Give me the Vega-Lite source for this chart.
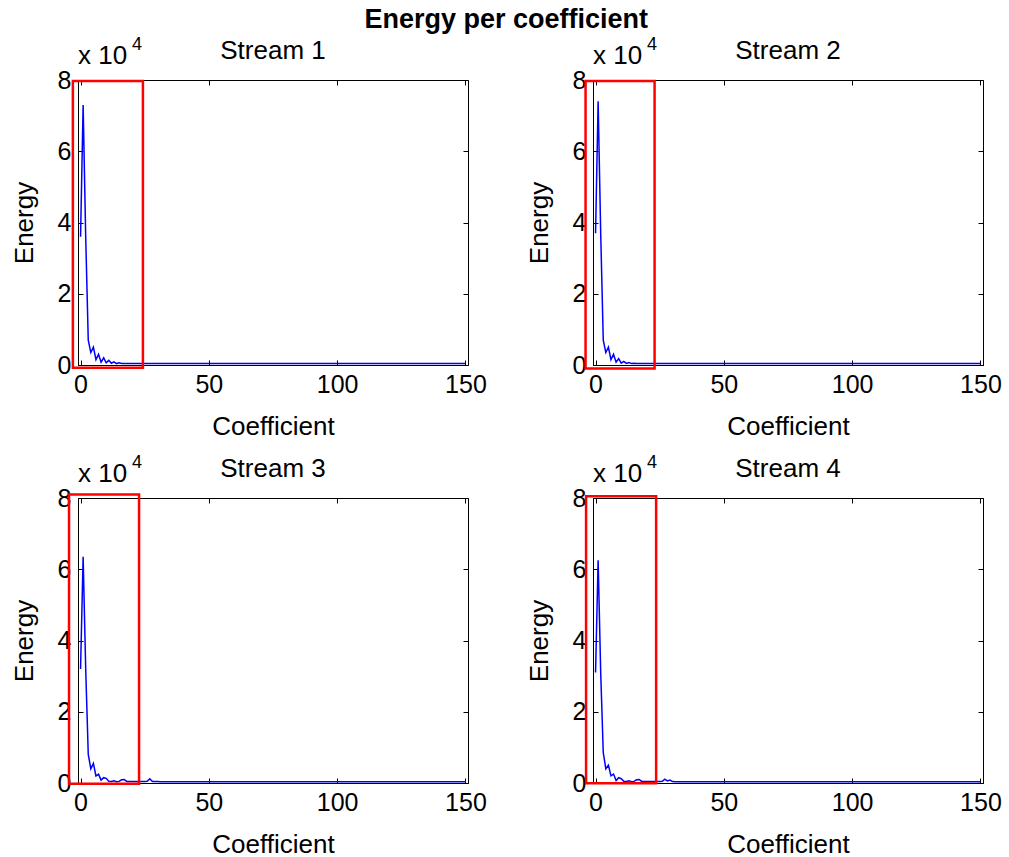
{
"$schema":"https://vega.github.io/schema/vega-lite/v6.json",
"background":"white",
"padding":{"left":10,"top":5,"right":5,"bottom":5},
"title":{"text":"Energy per coefficient","font":"Liberation Sans","fontSize":27,"fontWeight":"bold","color":"black","anchor":"middle","offset":2},
"config":{
 "font":"Liberation Sans",
 "view":{"stroke":"black","strokeWidth":1},
 "axis":{"grid":false,"domainColor":"black","tickColor":"black","labelColor":"black","titleColor":"black","labelFont":"Liberation Sans","titleFont":"Liberation Sans","labelFontSize":25,"titleFontSize":26,"titleFontWeight":"normal","tickSize":-5,"labelPadding":12},
 "axisX":{"titlePadding":16},
 "axisY":{"titlePadding":20}
},
"datasets":{"energy":[
{"c":0,"s1":36000,"s2":37000,"s3":32000,"s4":31000},
{"c":1,"s1":73000,"s2":74000,"s3":63500,"s4":62500},
{"c":2,"s1":36000,"s2":37000,"s3":32000,"s4":31000},
{"c":3,"s1":7000,"s2":7000,"s3":8000,"s4":8500},
{"c":4,"s1":3500,"s2":3500,"s3":4000,"s4":4000},
{"c":5,"s1":5000,"s2":5000,"s3":5500,"s4":5000},
{"c":6,"s1":1500,"s2":1500,"s3":2000,"s4":2000},
{"c":7,"s1":3000,"s2":3000,"s3":2500,"s4":2500},
{"c":8,"s1":800,"s2":800,"s3":800,"s4":700},
{"c":9,"s1":2000,"s2":1800,"s3":1500,"s4":1500},
{"c":10,"s1":600,"s2":500,"s3":1300,"s4":1200},
{"c":11,"s1":1300,"s2":1000,"s3":500,"s4":500},
{"c":12,"s1":500,"s2":450,"s3":400,"s4":400},
{"c":13,"s1":900,"s2":700,"s3":600,"s4":600},
{"c":14,"s1":400,"s2":400,"s3":350,"s4":350},
{"c":15,"s1":600,"s2":500,"s3":450,"s4":450},
{"c":16,"s1":400,"s2":400,"s3":900,"s4":900},
{"c":17,"s1":400,"s2":400,"s3":1000,"s4":1000},
{"c":18,"s1":400,"s2":400,"s3":450,"s4":450},
{"c":19,"s1":400,"s2":400,"s3":400,"s4":400},
{"c":20,"s1":400,"s2":400,"s3":400,"s4":400},
{"c":21,"s1":400,"s2":400,"s3":400,"s4":400},
{"c":22,"s1":400,"s2":400,"s3":400,"s4":400},
{"c":23,"s1":400,"s2":400,"s3":400,"s4":400},
{"c":24,"s1":400,"s2":400,"s3":400,"s4":400},
{"c":25,"s1":400,"s2":400,"s3":400,"s4":400},
{"c":26,"s1":400,"s2":400,"s3":500,"s4":500},
{"c":27,"s1":400,"s2":400,"s3":1200,"s4":1100},
{"c":28,"s1":400,"s2":400,"s3":450,"s4":600},
{"c":29,"s1":400,"s2":400,"s3":400,"s4":800},
{"c":30,"s1":400,"s2":400,"s3":400,"s4":400},
{"c":31,"s1":400,"s2":400,"s3":350,"s4":350},
{"c":32,"s1":400,"s2":400,"s3":350,"s4":350},
{"c":33,"s1":400,"s2":400,"s3":350,"s4":350},
{"c":34,"s1":400,"s2":400,"s3":350,"s4":350},
{"c":35,"s1":400,"s2":400,"s3":350,"s4":350},
{"c":36,"s1":400,"s2":400,"s3":350,"s4":350},
{"c":37,"s1":400,"s2":400,"s3":350,"s4":350},
{"c":38,"s1":400,"s2":400,"s3":350,"s4":350},
{"c":39,"s1":400,"s2":400,"s3":350,"s4":350},
{"c":40,"s1":400,"s2":400,"s3":350,"s4":350},
{"c":41,"s1":400,"s2":400,"s3":350,"s4":350},
{"c":42,"s1":400,"s2":400,"s3":350,"s4":350},
{"c":43,"s1":400,"s2":400,"s3":350,"s4":350},
{"c":44,"s1":400,"s2":400,"s3":350,"s4":350},
{"c":45,"s1":400,"s2":400,"s3":350,"s4":350},
{"c":46,"s1":400,"s2":400,"s3":350,"s4":350},
{"c":47,"s1":400,"s2":400,"s3":350,"s4":350},
{"c":48,"s1":400,"s2":400,"s3":350,"s4":350},
{"c":49,"s1":400,"s2":400,"s3":350,"s4":350},
{"c":50,"s1":400,"s2":400,"s3":350,"s4":350},
{"c":51,"s1":400,"s2":400,"s3":350,"s4":350},
{"c":52,"s1":400,"s2":400,"s3":350,"s4":350},
{"c":53,"s1":400,"s2":400,"s3":350,"s4":350},
{"c":54,"s1":400,"s2":400,"s3":350,"s4":350},
{"c":55,"s1":400,"s2":400,"s3":350,"s4":350},
{"c":56,"s1":400,"s2":400,"s3":350,"s4":350},
{"c":57,"s1":400,"s2":400,"s3":350,"s4":350},
{"c":58,"s1":400,"s2":400,"s3":350,"s4":350},
{"c":59,"s1":400,"s2":400,"s3":350,"s4":350},
{"c":60,"s1":400,"s2":400,"s3":350,"s4":350},
{"c":61,"s1":400,"s2":400,"s3":350,"s4":350},
{"c":62,"s1":400,"s2":400,"s3":350,"s4":350},
{"c":63,"s1":400,"s2":400,"s3":350,"s4":350},
{"c":64,"s1":400,"s2":400,"s3":350,"s4":350},
{"c":65,"s1":400,"s2":400,"s3":350,"s4":350},
{"c":66,"s1":400,"s2":400,"s3":350,"s4":350},
{"c":67,"s1":400,"s2":400,"s3":350,"s4":350},
{"c":68,"s1":400,"s2":400,"s3":350,"s4":350},
{"c":69,"s1":400,"s2":400,"s3":350,"s4":350},
{"c":70,"s1":400,"s2":400,"s3":350,"s4":350},
{"c":71,"s1":400,"s2":400,"s3":350,"s4":350},
{"c":72,"s1":400,"s2":400,"s3":350,"s4":350},
{"c":73,"s1":400,"s2":400,"s3":350,"s4":350},
{"c":74,"s1":400,"s2":400,"s3":350,"s4":350},
{"c":75,"s1":400,"s2":400,"s3":350,"s4":350},
{"c":76,"s1":400,"s2":400,"s3":350,"s4":350},
{"c":77,"s1":400,"s2":400,"s3":350,"s4":350},
{"c":78,"s1":400,"s2":400,"s3":350,"s4":350},
{"c":79,"s1":400,"s2":400,"s3":350,"s4":350},
{"c":80,"s1":400,"s2":400,"s3":350,"s4":350},
{"c":81,"s1":400,"s2":400,"s3":350,"s4":350},
{"c":82,"s1":400,"s2":400,"s3":350,"s4":350},
{"c":83,"s1":400,"s2":400,"s3":350,"s4":350},
{"c":84,"s1":400,"s2":400,"s3":350,"s4":350},
{"c":85,"s1":400,"s2":400,"s3":350,"s4":350},
{"c":86,"s1":400,"s2":400,"s3":350,"s4":350},
{"c":87,"s1":400,"s2":400,"s3":350,"s4":350},
{"c":88,"s1":400,"s2":400,"s3":350,"s4":350},
{"c":89,"s1":400,"s2":400,"s3":350,"s4":350},
{"c":90,"s1":400,"s2":400,"s3":350,"s4":350},
{"c":91,"s1":400,"s2":400,"s3":350,"s4":350},
{"c":92,"s1":400,"s2":400,"s3":350,"s4":350},
{"c":93,"s1":400,"s2":400,"s3":350,"s4":350},
{"c":94,"s1":400,"s2":400,"s3":350,"s4":350},
{"c":95,"s1":400,"s2":400,"s3":350,"s4":350},
{"c":96,"s1":400,"s2":400,"s3":350,"s4":350},
{"c":97,"s1":400,"s2":400,"s3":350,"s4":350},
{"c":98,"s1":400,"s2":400,"s3":350,"s4":350},
{"c":99,"s1":400,"s2":400,"s3":350,"s4":350},
{"c":100,"s1":400,"s2":400,"s3":350,"s4":350},
{"c":101,"s1":400,"s2":400,"s3":350,"s4":350},
{"c":102,"s1":400,"s2":400,"s3":350,"s4":350},
{"c":103,"s1":400,"s2":400,"s3":350,"s4":350},
{"c":104,"s1":400,"s2":400,"s3":350,"s4":350},
{"c":105,"s1":400,"s2":400,"s3":350,"s4":350},
{"c":106,"s1":400,"s2":400,"s3":350,"s4":350},
{"c":107,"s1":400,"s2":400,"s3":350,"s4":350},
{"c":108,"s1":400,"s2":400,"s3":350,"s4":350},
{"c":109,"s1":400,"s2":400,"s3":350,"s4":350},
{"c":110,"s1":400,"s2":400,"s3":350,"s4":350},
{"c":111,"s1":400,"s2":400,"s3":350,"s4":350},
{"c":112,"s1":400,"s2":400,"s3":350,"s4":350},
{"c":113,"s1":400,"s2":400,"s3":350,"s4":350},
{"c":114,"s1":400,"s2":400,"s3":350,"s4":350},
{"c":115,"s1":400,"s2":400,"s3":350,"s4":350},
{"c":116,"s1":400,"s2":400,"s3":350,"s4":350},
{"c":117,"s1":400,"s2":400,"s3":350,"s4":350},
{"c":118,"s1":400,"s2":400,"s3":350,"s4":350},
{"c":119,"s1":400,"s2":400,"s3":350,"s4":350},
{"c":120,"s1":400,"s2":400,"s3":350,"s4":350},
{"c":121,"s1":400,"s2":400,"s3":350,"s4":350},
{"c":122,"s1":400,"s2":400,"s3":350,"s4":350},
{"c":123,"s1":400,"s2":400,"s3":350,"s4":350},
{"c":124,"s1":400,"s2":400,"s3":350,"s4":350},
{"c":125,"s1":400,"s2":400,"s3":350,"s4":350},
{"c":126,"s1":400,"s2":400,"s3":350,"s4":350},
{"c":127,"s1":400,"s2":400,"s3":350,"s4":350},
{"c":128,"s1":400,"s2":400,"s3":350,"s4":350},
{"c":129,"s1":400,"s2":400,"s3":350,"s4":350},
{"c":130,"s1":400,"s2":400,"s3":350,"s4":350},
{"c":131,"s1":400,"s2":400,"s3":350,"s4":350},
{"c":132,"s1":400,"s2":400,"s3":350,"s4":350},
{"c":133,"s1":400,"s2":400,"s3":350,"s4":350},
{"c":134,"s1":400,"s2":400,"s3":350,"s4":350},
{"c":135,"s1":400,"s2":400,"s3":350,"s4":350},
{"c":136,"s1":400,"s2":400,"s3":350,"s4":350},
{"c":137,"s1":400,"s2":400,"s3":350,"s4":350},
{"c":138,"s1":400,"s2":400,"s3":350,"s4":350},
{"c":139,"s1":400,"s2":400,"s3":350,"s4":350},
{"c":140,"s1":400,"s2":400,"s3":350,"s4":350},
{"c":141,"s1":400,"s2":400,"s3":350,"s4":350},
{"c":142,"s1":400,"s2":400,"s3":350,"s4":350},
{"c":143,"s1":400,"s2":400,"s3":350,"s4":350},
{"c":144,"s1":400,"s2":400,"s3":350,"s4":350},
{"c":145,"s1":400,"s2":400,"s3":350,"s4":350},
{"c":146,"s1":400,"s2":400,"s3":350,"s4":350},
{"c":147,"s1":400,"s2":400,"s3":350,"s4":350},
{"c":148,"s1":400,"s2":400,"s3":350,"s4":350},
{"c":149,"s1":400,"s2":400,"s3":350,"s4":350},
{"c":150,"s1":400,"s2":400,"s3":350,"s4":350}
]},
"spacing":13,
"vconcat":[
{"hconcat":[
{"width":390,"height":285,"title":{"text":"Stream 1","fontSize":26,"fontWeight":"normal","color":"black","offset":-28},
 "data":{"name":"energy"},
 "resolve":{"axis":{"x":"independent","y":"independent"}},
 "layer":[
  {"mark":{"type":"line","color":"#0000ff","strokeWidth":1.5,"clip":true},
   "encoding":{"x":{"field":"c","type":"quantitative","title":"Coefficient","scale":{"domain":[-1,151],"nice":false,"zero":false},"axis":{"values":[0,50,100,150]}},
    "y":{"field":"s1","type":"quantitative","title":"Energy","scale":{"domain":[0,80000],"nice":false},"axis":{"values":[0,20000,40000,60000,80000],"labelExpr":"datum.value/10000"}}}},
  {"data":{"values":[{"x0":-3,"x1":24.3,"y0":-800,"y1":79700}]},
   "mark":{"type":"rect","fill":null,"stroke":"#ff0000","strokeWidth":2.5},
   "encoding":{"x":{"field":"x0","type":"quantitative","axis":{"orient":"top","labels":false,"title":null,"domain":false,"values":[0,50,100,150]}},"x2":{"field":"x1"},"y":{"field":"y0","type":"quantitative","axis":{"orient":"right","labels":false,"title":null,"domain":false,"values":[0,20000,40000,60000,80000]}},"y2":{"field":"y1"}}},
  {"data":{"values":[{"t":"x 10"}]},"mark":{"type":"text","align":"left","baseline":"alphabetic","fontSize":26,"dx":0,"dy":-16,"color":"black"},
   "encoding":{"x":{"datum":-1,"axis":null},"y":{"datum":80000,"axis":null},"text":{"field":"t"}}},
  {"data":{"values":[{"t":"4"}]},"mark":{"type":"text","align":"left","baseline":"alphabetic","fontSize":18,"dx":54,"dy":-30,"color":"black"},
   "encoding":{"x":{"datum":-1,"axis":null},"y":{"datum":80000,"axis":null},"text":{"field":"t"}}}
 ]},
{"width":390,"height":285,"title":{"text":"Stream 2","fontSize":26,"fontWeight":"normal","color":"black","offset":-28},
 "data":{"name":"energy"},
 "resolve":{"axis":{"x":"independent","y":"independent"}},
 "layer":[
  {"mark":{"type":"line","color":"#0000ff","strokeWidth":1.5,"clip":true},
   "encoding":{"x":{"field":"c","type":"quantitative","title":"Coefficient","scale":{"domain":[-1,151],"nice":false,"zero":false},"axis":{"values":[0,50,100,150]}},
    "y":{"field":"s2","type":"quantitative","title":"Energy","scale":{"domain":[0,80000],"nice":false},"axis":{"values":[0,20000,40000,60000,80000],"labelExpr":"datum.value/10000"}}}},
  {"data":{"values":[{"x0":-3.9,"x1":23,"y0":-1000,"y1":79700}]},
   "mark":{"type":"rect","fill":null,"stroke":"#ff0000","strokeWidth":2.5},
   "encoding":{"x":{"field":"x0","type":"quantitative","axis":{"orient":"top","labels":false,"title":null,"domain":false,"values":[0,50,100,150]}},"x2":{"field":"x1"},"y":{"field":"y0","type":"quantitative","axis":{"orient":"right","labels":false,"title":null,"domain":false,"values":[0,20000,40000,60000,80000]}},"y2":{"field":"y1"}}},
  {"data":{"values":[{"t":"x 10"}]},"mark":{"type":"text","align":"left","baseline":"alphabetic","fontSize":26,"dx":0,"dy":-16,"color":"black"},
   "encoding":{"x":{"datum":-1,"axis":null},"y":{"datum":80000,"axis":null},"text":{"field":"t"}}},
  {"data":{"values":[{"t":"4"}]},"mark":{"type":"text","align":"left","baseline":"alphabetic","fontSize":18,"dx":54,"dy":-30,"color":"black"},
   "encoding":{"x":{"datum":-1,"axis":null},"y":{"datum":80000,"axis":null},"text":{"field":"t"}}}
 ]}
],"spacing":38},
{"hconcat":[
{"width":390,"height":285,"title":{"text":"Stream 3","fontSize":26,"fontWeight":"normal","color":"black","offset":-28},
 "data":{"name":"energy"},
 "resolve":{"axis":{"x":"independent","y":"independent"}},
 "layer":[
  {"mark":{"type":"line","color":"#0000ff","strokeWidth":1.5,"clip":true},
   "encoding":{"x":{"field":"c","type":"quantitative","title":"Coefficient","scale":{"domain":[-1,151],"nice":false,"zero":false},"axis":{"values":[0,50,100,150]}},
    "y":{"field":"s3","type":"quantitative","title":"Energy","scale":{"domain":[0,80000],"nice":false},"axis":{"values":[0,20000,40000,60000,80000],"labelExpr":"datum.value/10000"}}}},
  {"data":{"values":[{"x0":-4.5,"x1":22.8,"y0":-200,"y1":81000}]},
   "mark":{"type":"rect","fill":null,"stroke":"#ff0000","strokeWidth":2.5},
   "encoding":{"x":{"field":"x0","type":"quantitative","axis":{"orient":"top","labels":false,"title":null,"domain":false,"values":[0,50,100,150]}},"x2":{"field":"x1"},"y":{"field":"y0","type":"quantitative","axis":{"orient":"right","labels":false,"title":null,"domain":false,"values":[0,20000,40000,60000,80000]}},"y2":{"field":"y1"}}},
  {"data":{"values":[{"t":"x 10"}]},"mark":{"type":"text","align":"left","baseline":"alphabetic","fontSize":26,"dx":0,"dy":-16,"color":"black"},
   "encoding":{"x":{"datum":-1,"axis":null},"y":{"datum":80000,"axis":null},"text":{"field":"t"}}},
  {"data":{"values":[{"t":"4"}]},"mark":{"type":"text","align":"left","baseline":"alphabetic","fontSize":18,"dx":54,"dy":-30,"color":"black"},
   "encoding":{"x":{"datum":-1,"axis":null},"y":{"datum":80000,"axis":null},"text":{"field":"t"}}}
 ]},
{"width":390,"height":285,"title":{"text":"Stream 4","fontSize":26,"fontWeight":"normal","color":"black","offset":-28},
 "data":{"name":"energy"},
 "resolve":{"axis":{"x":"independent","y":"independent"}},
 "layer":[
  {"mark":{"type":"line","color":"#0000ff","strokeWidth":1.5,"clip":true},
   "encoding":{"x":{"field":"c","type":"quantitative","title":"Coefficient","scale":{"domain":[-1,151],"nice":false,"zero":false},"axis":{"values":[0,50,100,150]}},
    "y":{"field":"s4","type":"quantitative","title":"Energy","scale":{"domain":[0,80000],"nice":false},"axis":{"values":[0,20000,40000,60000,80000],"labelExpr":"datum.value/10000"}}}},
  {"data":{"values":[{"x0":-3.7,"x1":23.6,"y0":-100,"y1":80500}]},
   "mark":{"type":"rect","fill":null,"stroke":"#ff0000","strokeWidth":2.5},
   "encoding":{"x":{"field":"x0","type":"quantitative","axis":{"orient":"top","labels":false,"title":null,"domain":false,"values":[0,50,100,150]}},"x2":{"field":"x1"},"y":{"field":"y0","type":"quantitative","axis":{"orient":"right","labels":false,"title":null,"domain":false,"values":[0,20000,40000,60000,80000]}},"y2":{"field":"y1"}}},
  {"data":{"values":[{"t":"x 10"}]},"mark":{"type":"text","align":"left","baseline":"alphabetic","fontSize":26,"dx":0,"dy":-16,"color":"black"},
   "encoding":{"x":{"datum":-1,"axis":null},"y":{"datum":80000,"axis":null},"text":{"field":"t"}}},
  {"data":{"values":[{"t":"4"}]},"mark":{"type":"text","align":"left","baseline":"alphabetic","fontSize":18,"dx":54,"dy":-30,"color":"black"},
   "encoding":{"x":{"datum":-1,"axis":null},"y":{"datum":80000,"axis":null},"text":{"field":"t"}}}
 ]}
],"spacing":38}
]
}
